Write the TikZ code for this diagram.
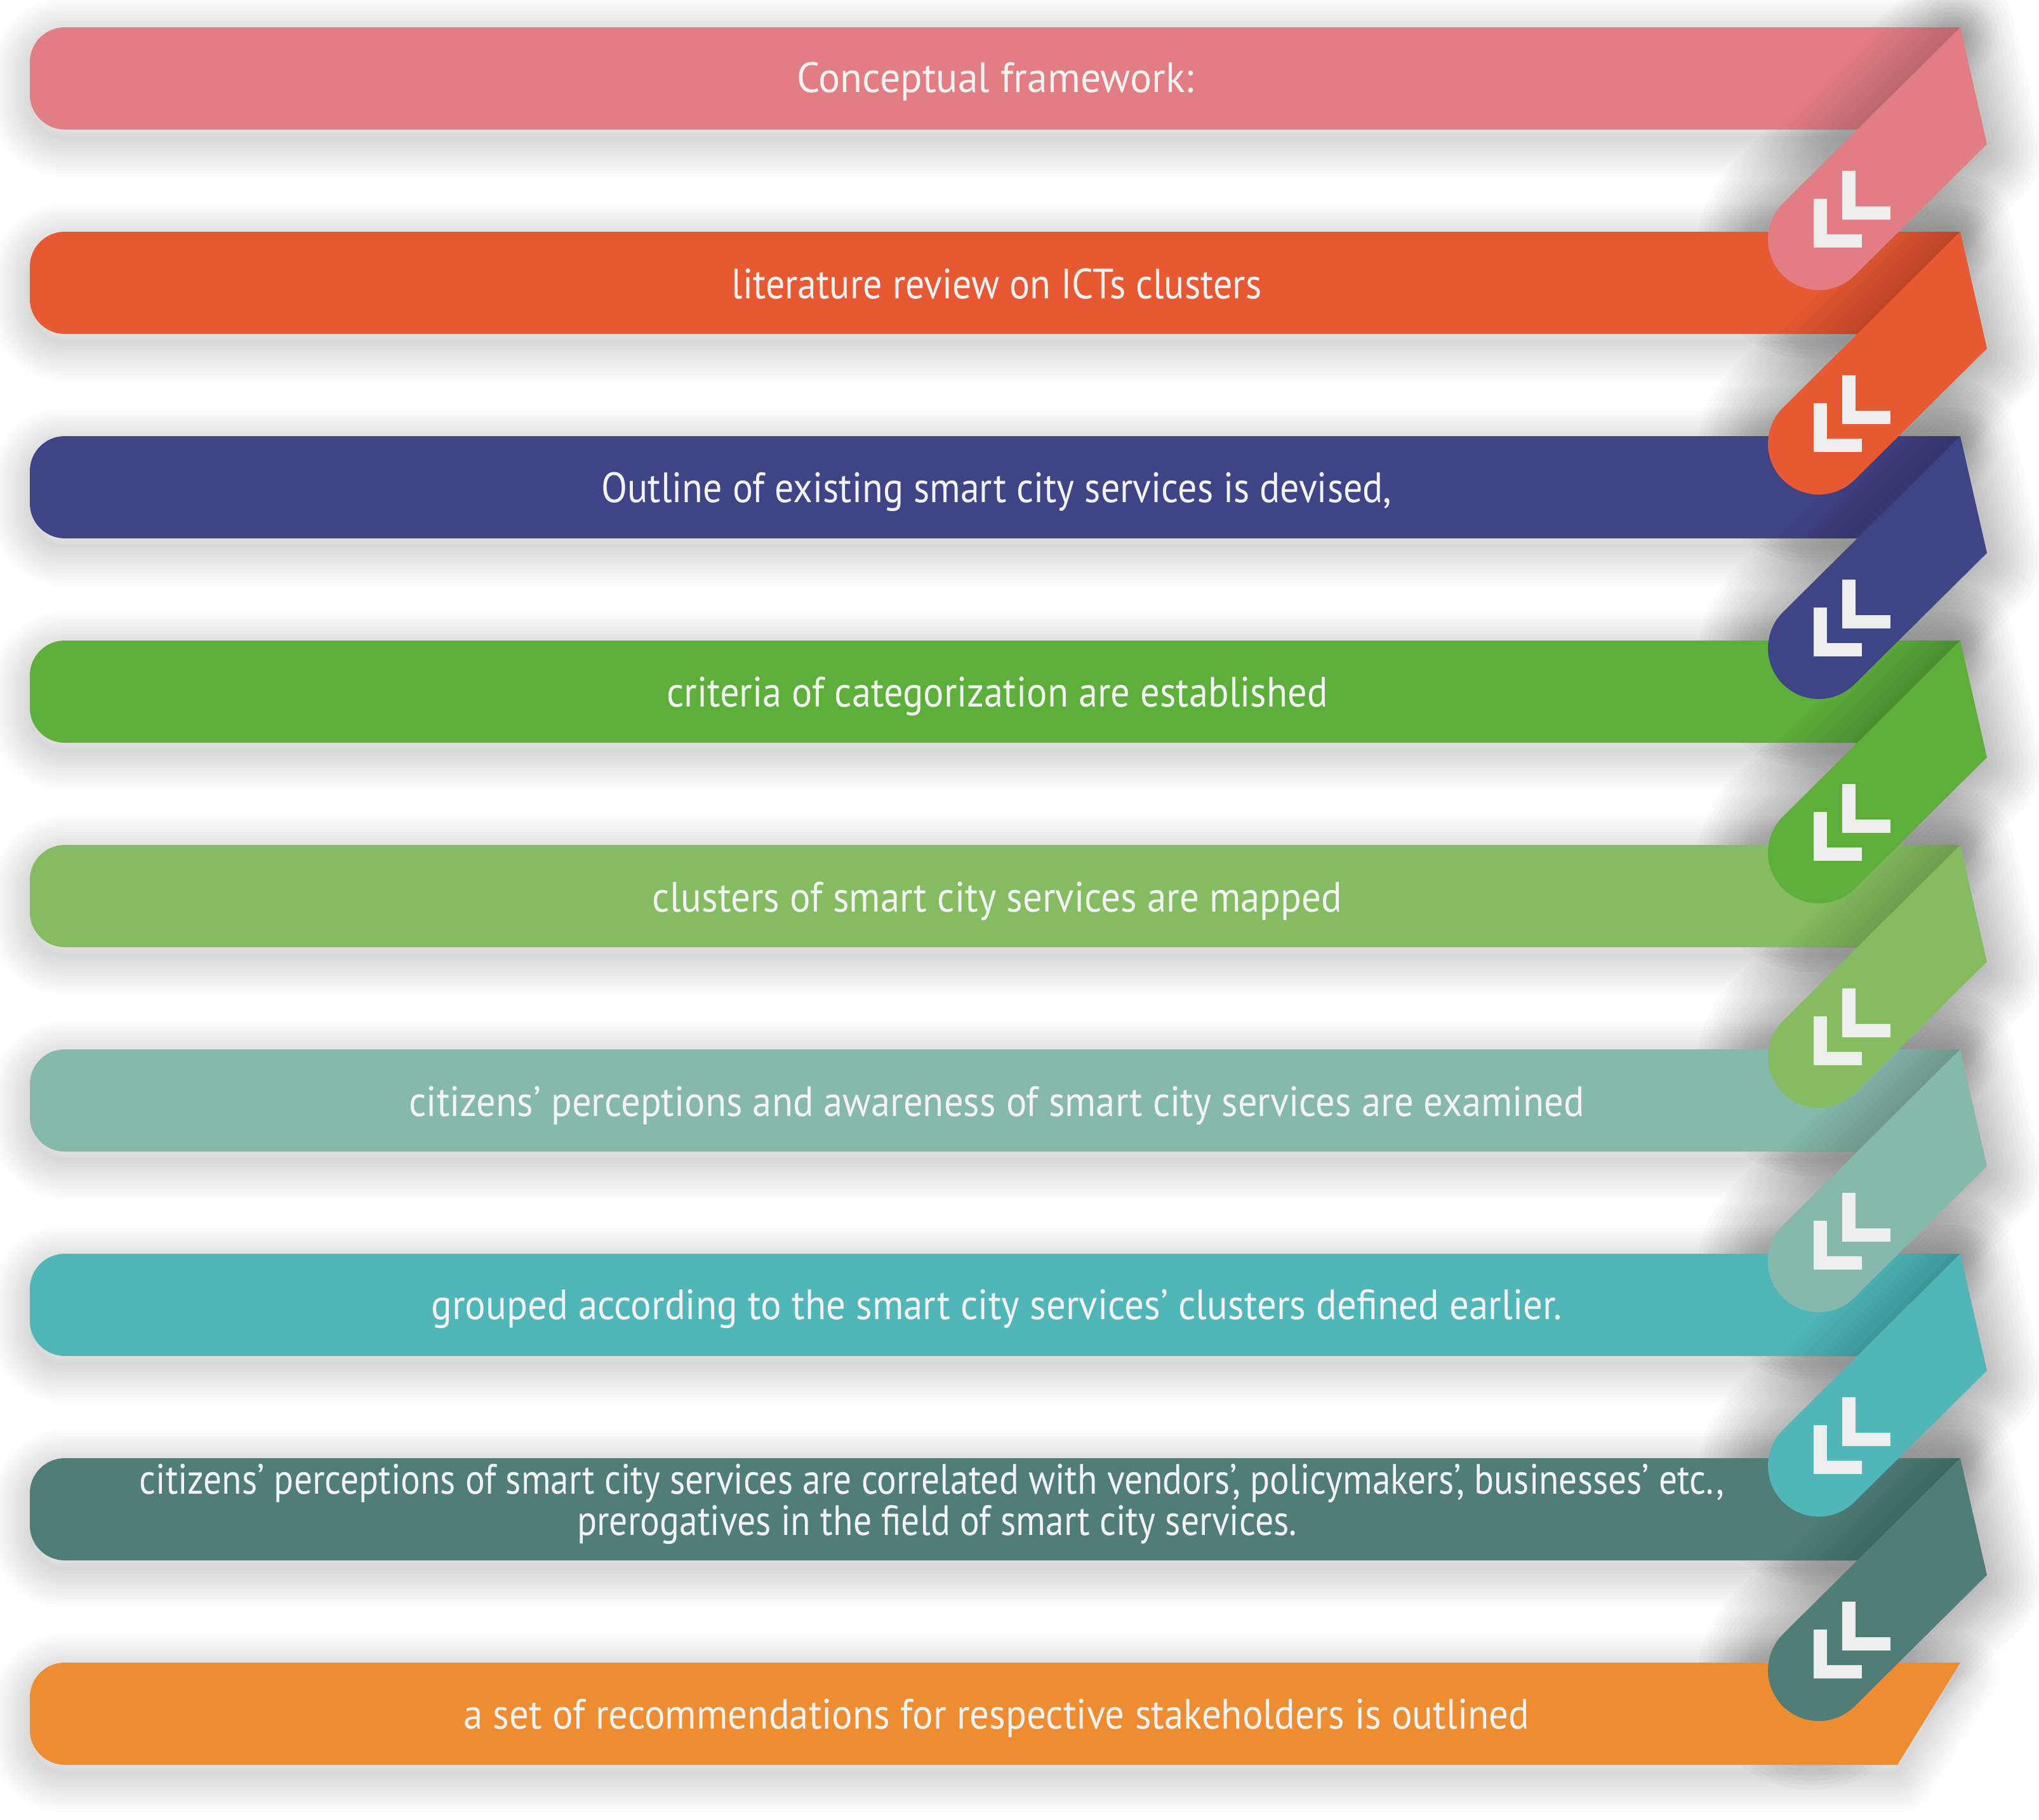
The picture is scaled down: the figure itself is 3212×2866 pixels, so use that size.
\documentclass[tikz,border=0pt]{standalone}
\usepackage{fontspec}
\setmainfont{PT Sans}
\usepackage{graphicx}
\definecolor{c0}{HTML}{E37D84}
\definecolor{c1}{HTML}{E65932}
\definecolor{c2}{HTML}{3F4486}
\definecolor{c3}{HTML}{5EAE3B}
\definecolor{c4}{HTML}{85BC62}
\definecolor{c5}{HTML}{87B8AC}
\definecolor{c6}{HTML}{51B6B8}
\definecolor{c7}{HTML}{507D78}
\definecolor{c8}{HTML}{EE8C32}
\definecolor{chevc}{HTML}{EEEEEE}
\definecolor{txtc}{HTML}{F3F3F3}
\tikzset{
  chev/.style={draw=chevc, line width=0.21cm, line cap=butt, line join=miter},
  txt/.style={text=txtc, inner sep=0pt, anchor=base, font=\fontsize{19pt}{23pt}\selectfont},
}
\begin{document}
\begin{tikzpicture}[x=0.01cm,y=-0.01cm]
\useasboundingbox (0,0) rectangle (3212,2866);
\fill[white] (0,0) rectangle (3212,2866);
% tab shadows (cast on the background only)
\foreach \i in {0,...,7}{
  \pgfmathsetmacro\t{43+322*\i}
  \begin{scope}[shift={(-12,10)}]
    \fill[black,opacity=0.02] (3088,\t) -- (3130,{\t+184}) -- (2921.6,{\t+390.6}) arc[start angle=45,end angle=225,radius=80] -- cycle;
    \foreach \k in {1,...,14}{
      \pgfmathsetmacro\lw{0.14*\k}
      \draw[black,opacity=0.018,line width=\lw cm,line join=round] (3088,\t) -- (3130,{\t+184}) -- (2921.6,{\t+390.6}) arc[start angle=45,end angle=225,radius=80] -- cycle;
    }
  \end{scope}
}
% body drop shadows
\foreach \i in {0,...,8}{
  \pgfmathsetmacro\t{43+322*\i}
  \pgfmathsetmacro\b{\t+161}
  \pgfmathsetmacro\xr{\i==8 ? 2989 : 2927}
  \begin{scope}[shift={(0,15)}]
    \fill[black,opacity=0.012] (3088,\t) -- (\xr,\b) -- (102,\b) arc[start angle=90,end angle=180,radius=55] -- (47,{\t+55}) arc[start angle=180,end angle=270,radius=55] -- cycle;
    \foreach \k in {1,...,12}{
      \pgfmathsetmacro\lw{0.1*\k}
      \draw[black,opacity=0.012,line width=\lw cm,line join=round] (3088,\t) -- (\xr,\b) -- (102,\b) arc[start angle=90,end angle=180,radius=55] -- (47,{\t+55}) arc[start angle=180,end angle=270,radius=55] -- cycle;
    }
  \end{scope}
}
% bodies
\foreach \i/\c in {0/c0,1/c1,2/c2,3/c3,4/c4,5/c5,6/c6,7/c7,8/c8}{
  \pgfmathsetmacro\t{43+322*\i}
  \pgfmathsetmacro\b{\t+161}
  \pgfmathsetmacro\xr{\i==8 ? 2989 : 2927}
  \fill[\c] (3088,\t) -- (\xr,\b) -- (102,\b) arc[start angle=90,end angle=180,radius=55] -- (47,{\t+55}) arc[start angle=180,end angle=270,radius=55] -- cycle;
}
% fold shading on bodies
\foreach \i in {0,...,7}{
  \pgfmathsetmacro\t{43+322*\i}
  \pgfmathsetmacro\b{\t+161}
  \begin{scope}
    \clip (3088,\t) -- (2927,\b) -- (102,\b) arc[start angle=90,end angle=180,radius=55] -- (47,{\t+55}) arc[start angle=180,end angle=270,radius=55] -- cycle;
    \foreach \k in {1,...,10}{
      \pgfmathsetmacro\lw{0.18*\k}
      \draw[black,opacity=0.016,line width=\lw cm] (3288,{\t-200}) -- (2688,{\t+400});
    }
  \end{scope}
}
% tabs and chevrons
\foreach \i/\c in {0/c0,1/c1,2/c2,3/c3,4/c4,5/c5,6/c6,7/c7}{
  \pgfmathsetmacro\t{43+322*\i}
  \fill[\c] (3088,\t) -- (3130,{\t+184}) -- (2921.6,{\t+390.6}) arc[start angle=45,end angle=225,radius=80] -- cycle;
  \draw[chev] (2912,{\t+226}) -- (2912,{\t+292}) -- (2978,{\t+292});
  \draw[chev] (2867,{\t+270}) -- (2867,{\t+336}) -- (2933,{\t+336});
}
% texts
\node[txt] (s0) at (1568,145) {\resizebox{6.25cm}{\height}{Conceptual framework:}};
\node[txt] (s1) at (1570,470) {\resizebox{8.34cm}{\height}{literature review on ICTs clusters}};
\node[txt] (s2) at (1570,791) {\resizebox{12.44cm}{\height}{Outline of existing smart city services is devised,}};
\node[txt] (s3) at (1571,1113) {\resizebox{10.41cm}{\height}{criteria of categorization are established}};
\node[txt] (s4) at (1571,1436) {\resizebox{10.86cm}{\height}{clusters of smart city services are mapped}};
\node[txt] (s5) at (1570,1758) {\resizebox{18.50cm}{\height}{citizens’ perceptions and awareness of smart city services are examined}};
\node[txt] (s6) at (1570,2078) {\resizebox{17.80cm}{\height}{grouped according to the smart city services’ clusters defined earlier.}};
\node[txt] (s7a) at (1468,2353) {\resizebox{24.95cm}{\height}{citizens’ perceptions of smart city services are correlated with vendors’, policymakers’, businesses’ etc.,}};
\node[txt] (s7b) at (1476,2418) {\resizebox{11.33cm}{\height}{prerogatives in the field of smart city services.}};
\node[txt] (s8) at (1570,2723) {\resizebox{16.78cm}{\height}{a set of recommendations for respective stakeholders is outlined}};
\end{tikzpicture}
\end{document}
